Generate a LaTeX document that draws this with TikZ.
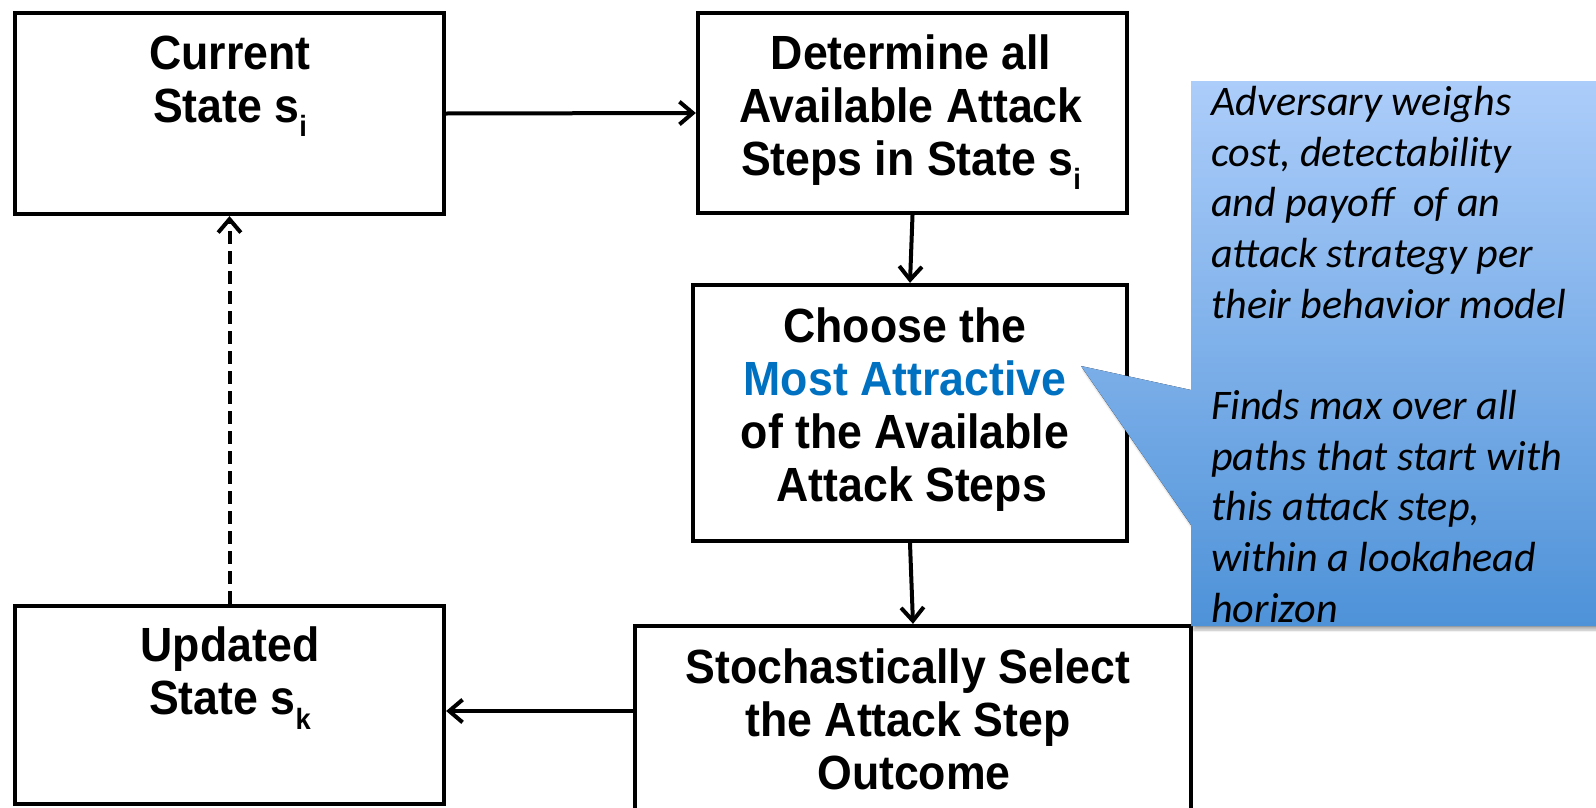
\documentclass[tikz,border=0pt]{standalone}
\usepackage{fontspec}
\usetikzlibrary{arrows.meta,calc,shadows.blur}
\newfontfamily\boxfont{Liberation Sans}[FakeStretch=0.93]
\newfontfamily\notefont{Carlito}
\definecolor{attract}{RGB}{0,112,192}
\definecolor{calltop}{RGB}{172,205,250}
\definecolor{callbot}{RGB}{78,146,216}
% lowered index letter for state names
\newcommand\lowidx[1]{\raisebox{-0.3em}{\fontsize{22}{22}\selectfont #1}}

\begin{document}
\begin{tikzpicture}[x=0.75pt,y=-0.75pt,
  stepbox/.style={draw,line width=3.2pt,inner sep=0pt},
  boxtext/.style={font=\boxfont\bfseries\fontsize{36}{39.75}\selectfont,align=center,inner sep=0pt},
  arr/.style={line width=3pt,-{Straight Barb[length=10pt,width=17pt]}},
  notetext/.style={font=\notefont\itshape\fontsize{31.6}{38}\selectfont,align=left,anchor=north west,inner sep=0pt}]

\useasboundingbox (0,0) rectangle (1596,807);

% process boxes
\node[stepbox,minimum width=321.75pt,minimum height=150.75pt] (cur) at (229.5,113.5) {};
\node[stepbox,minimum width=321.75pt,minimum height=150pt] (det) at (912.5,113) {};
\node[stepbox,minimum width=325.5pt,minimum height=192pt] (cho) at (910,413) {};
\node[stepbox,minimum width=321.75pt,minimum height=148.5pt] (upd) at (229.5,705) {};
\node[stepbox,minimum width=417pt,minimum height=160.5pt] (sto) at (913,733) {};

% box labels
\node[boxtext] (curtxt) at (230,86) {Current\\State s\lowidx{i}};
\node[boxtext] (dettxt) at (911,112) {Determine all\\Available Attack\\Steps in State s\lowidx{i}};
\node[boxtext] (chotxt) at (905,410) {Choose the\\\textcolor{attract}{Most Attractive}\\of the Available\\\hspace*{0.28em}Attack Steps};
\node[boxtext] (updtxt) at (230,678) {Updated\\State s\lowidx{k}};
\node[boxtext] (stotxt) at (908,719) {Stochastically Select\\the Attack Step\\\hspace*{0.25em}Outcome};

% connectors
\draw[arr] (cur.east) -- (det.west);
\draw[arr] (det.south) -- (cho.north);
\draw[arr] (cho.south) -- (sto.north);
\draw[arr] ([yshift=16.5pt]sto.west) -- ([yshift=16.5pt]sto.west -| upd.east);
\draw[arr,dash pattern=on 10pt off 5pt] (upd.north) -- (cur.south);

% annotation callout
\fill[top color=calltop,bottom color=callbot,
      blur shadow={shadow xshift=2pt,shadow yshift=-3pt,shadow opacity=30,shadow blur steps=6}]
  (1191,81) -- (1610,81) -- (1610,626) -- (1191,626) -- (1191,525) -- (1081,366) -- (1191,390) -- cycle;
\node[notetext] (note) at (1211,86) {Adversary weighs\\cost, detectability\\and payoff\ \ of an\\attack strategy per\\their behavior model\\[38pt]Finds max over all\\paths that start with\\this attack step,\\within a lookahead\\horizon};
\end{tikzpicture}
\end{document}
